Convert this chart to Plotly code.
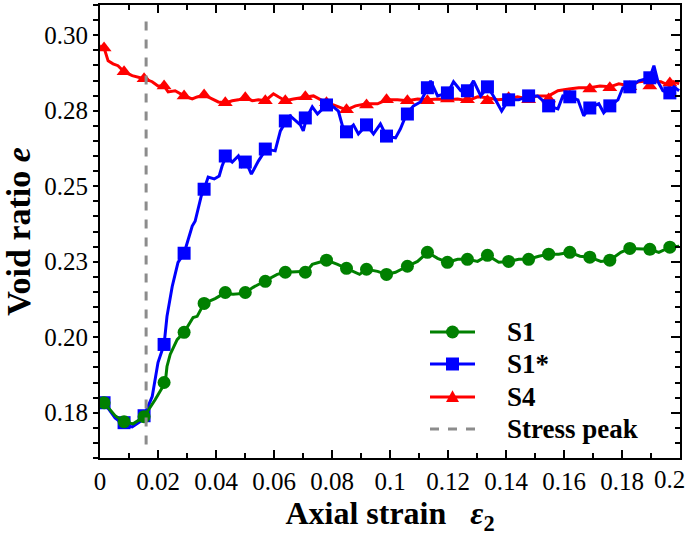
import plotly.graph_objects as go

# ---------------- data ----------------
marker_x = [0.0014, 0.0083, 0.0152, 0.0221, 0.0290, 0.0359, 0.0432, 0.0501, 0.0570, 0.0639,
            0.0708, 0.0781, 0.0850, 0.0919, 0.0988, 0.1060, 0.1129, 0.1198, 0.1267, 0.1336,
            0.1409, 0.1478, 0.1547, 0.1620, 0.1689, 0.1758, 0.1827, 0.1896, 0.1965]

s1_marker_y = [0.1783, 0.1720, 0.1737, 0.1850, 0.2016, 0.2112, 0.2148, 0.2148, 0.2185, 0.2215,
               0.2215, 0.2255, 0.2228, 0.2225, 0.2208, 0.2235, 0.2281, 0.2248, 0.2258, 0.2271,
               0.2251, 0.2258, 0.2275, 0.2281, 0.2265, 0.2255, 0.2294, 0.2291, 0.2298]
s1s_marker_y = [0.1783, 0.1717, 0.1740, 0.1976, 0.2278, 0.2490, 0.2600, 0.2580, 0.2623, 0.2716,
                0.2726, 0.2769, 0.2680, 0.2703, 0.2666, 0.2739, 0.2826, 0.2809, 0.2816, 0.2829,
                0.2786, 0.2799, 0.2766, 0.2796, 0.2759, 0.2766, 0.2829, 0.2859, 0.2809]
s4_marker_y = [0.2958, 0.2879, 0.2856, 0.2832, 0.2799, 0.2802, 0.2776, 0.2793, 0.2783, 0.2783,
               0.2796, 0.2776, 0.2753, 0.2769, 0.2786, 0.2783, 0.2783, 0.2789, 0.2786, 0.2783,
               0.2793, 0.2786, 0.2789, 0.2799, 0.2822, 0.2826, 0.2829, 0.2832, 0.2842]

s1_x = [0.0014, 0.0052, 0.0083, 0.0114, 0.0152, 0.0190, 0.0225, 0.0231, 0.0242, 0.0266,
        0.0290, 0.0321, 0.0335, 0.0359, 0.0397, 0.0408, 0.0428, 0.0459, 0.0497, 0.0528,
        0.0570, 0.0611, 0.0642, 0.0684, 0.0712, 0.0732, 0.0760, 0.0781, 0.0819, 0.0850,
        0.0895, 0.0919, 0.0957, 0.0988, 0.1019, 0.1060, 0.1095, 0.1130, 0.1164, 0.1199,
        0.1233, 0.1268, 0.1302, 0.1337, 0.1375, 0.1409, 0.1444, 0.1478, 0.1513, 0.1547,
        0.1582, 0.1620, 0.1655, 0.1689, 0.1727, 0.1758, 0.1796, 0.1827, 0.1865, 0.1896,
        0.1927, 0.1965, 0.1997]
s1_y = [0.1783, 0.1740, 0.1720, 0.1713, 0.1737, 0.1793, 0.1850, 0.1903, 0.1943, 0.1992,
        0.2016, 0.2065, 0.2069, 0.2112, 0.2128, 0.2135, 0.2145, 0.2142, 0.2145, 0.2165,
        0.2188, 0.2208, 0.2215, 0.2218, 0.2218, 0.2241, 0.2248, 0.2255, 0.2241, 0.2228,
        0.2208, 0.2225, 0.2218, 0.2208, 0.2215, 0.2235, 0.2251, 0.2281, 0.2261, 0.2248,
        0.2258, 0.2258, 0.2251, 0.2271, 0.2248, 0.2251, 0.2258, 0.2258, 0.2268, 0.2275,
        0.2275, 0.2281, 0.2268, 0.2265, 0.2251, 0.2255, 0.2281, 0.2294, 0.2291, 0.2291,
        0.2281, 0.2298, 0.2301]

s1s_x = [0.0014, 0.0052, 0.0083, 0.0111, 0.0138, 0.0152, 0.0180, 0.0200, 0.0221, 0.0231,
         0.0249, 0.0269, 0.0290, 0.0318, 0.0328, 0.0349, 0.0359, 0.0373, 0.0394, 0.0411,
         0.0421, 0.0435, 0.0456, 0.0477, 0.0490, 0.0504, 0.0522, 0.0546, 0.0573, 0.0604,
         0.0622, 0.0642, 0.0656, 0.0691, 0.0701, 0.0712, 0.0732, 0.0750, 0.0781, 0.0805,
         0.0822, 0.0836, 0.0850, 0.0874, 0.0891, 0.0919, 0.0943, 0.0967, 0.0988, 0.1019,
         0.1036, 0.1057, 0.1081, 0.1105, 0.1130, 0.1140, 0.1164, 0.1199, 0.1219, 0.1244,
         0.1268, 0.1288, 0.1313, 0.1337, 0.1358, 0.1385, 0.1409, 0.1444, 0.1478, 0.1509,
         0.1547, 0.1579, 0.1596, 0.1617, 0.1648, 0.1668, 0.1686, 0.1720, 0.1737, 0.1758,
         0.1786, 0.1803, 0.1827, 0.1858, 0.1896, 0.1910, 0.1924, 0.1941, 0.1965, 0.1979,
         0.1997]
s1s_y = [0.1783, 0.1733, 0.1710, 0.1703, 0.1720, 0.1740, 0.1803, 0.1916, 0.1976, 0.2069,
         0.2168, 0.2248, 0.2278, 0.2368, 0.2384, 0.2467, 0.2490, 0.2530, 0.2524, 0.2534,
         0.2567, 0.2600, 0.2580, 0.2600, 0.2567, 0.2580, 0.2540, 0.2583, 0.2623, 0.2617,
         0.2683, 0.2716, 0.2733, 0.2703, 0.2683, 0.2726, 0.2763, 0.2739, 0.2769, 0.2763,
         0.2749, 0.2700, 0.2680, 0.2703, 0.2673, 0.2703, 0.2673, 0.2706, 0.2666, 0.2660,
         0.2690, 0.2739, 0.2766, 0.2779, 0.2826, 0.2849, 0.2799, 0.2809, 0.2846, 0.2816,
         0.2816, 0.2849, 0.2799, 0.2829, 0.2796, 0.2749, 0.2786, 0.2786, 0.2799, 0.2799,
         0.2766, 0.2756, 0.2799, 0.2796, 0.2786, 0.2733, 0.2759, 0.2773, 0.2743, 0.2766,
         0.2786, 0.2826, 0.2829, 0.2849, 0.2859, 0.2899, 0.2846, 0.2816, 0.2809, 0.2829,
         0.2816]

s4_x = [0.0000, 0.0014, 0.0028, 0.0045, 0.0062, 0.0083, 0.0111, 0.0131, 0.0152, 0.0180,
        0.0200, 0.0221, 0.0235, 0.0259, 0.0276, 0.0290, 0.0318, 0.0335, 0.0359, 0.0387,
        0.0408, 0.0432, 0.0456, 0.0477, 0.0501, 0.0525, 0.0546, 0.0570, 0.0598, 0.0615,
        0.0639, 0.0667, 0.0708, 0.0736, 0.0781, 0.0805, 0.0850, 0.0881, 0.0919, 0.0957,
        0.0988, 0.1026, 0.1060, 0.1095, 0.1130, 0.1164, 0.1199, 0.1233, 0.1268, 0.1302,
        0.1337, 0.1371, 0.1406, 0.1440, 0.1475, 0.1509, 0.1547, 0.1579, 0.1617, 0.1651,
        0.1689, 0.1724, 0.1758, 0.1789, 0.1827, 0.1858, 0.1896, 0.1934, 0.1965, 0.1979,
        0.1997]
s4_y = [0.2965, 0.2958, 0.2915, 0.2905, 0.2899, 0.2879, 0.2866, 0.2862, 0.2856, 0.2846,
        0.2832, 0.2832, 0.2812, 0.2816, 0.2806, 0.2799, 0.2789, 0.2796, 0.2802, 0.2789,
        0.2779, 0.2776, 0.2783, 0.2786, 0.2793, 0.2783, 0.2786, 0.2783, 0.2806, 0.2796,
        0.2783, 0.2789, 0.2796, 0.2799, 0.2776, 0.2769, 0.2753, 0.2766, 0.2773, 0.2773,
        0.2786, 0.2786, 0.2783, 0.2789, 0.2786, 0.2789, 0.2786, 0.2789, 0.2783, 0.2796,
        0.2793, 0.2786, 0.2789, 0.2796, 0.2789, 0.2799, 0.2799, 0.2816, 0.2822, 0.2826,
        0.2826, 0.2832, 0.2829, 0.2839, 0.2832, 0.2846, 0.2849, 0.2846, 0.2832, 0.2846,
        0.2839]

stress_peak_x = 0.0159
stress_peak_y = [0.1645, 0.3055]

x_tickvals = [0, 0.02, 0.04, 0.06, 0.08, 0.1, 0.12, 0.14, 0.16, 0.18, 0.2]
x_ticktext = ["0", "0.02", "0.04", "0.06", "0.08", "0.1", "0.12", "0.14", "0.16", "0.18", "0.2"]
y_tickvals = [0.175, 0.2, 0.225, 0.25, 0.275, 0.3]
y_ticktext = ["0.18", "0.20", "0.23", "0.25", "0.28", "0.30"]

legend_labels = ["S1", "S1*", "S4", "Stress peak"]

# ---------------- styling ----------------
W, H = 687, 544
ML, MR, MT, MB = 100, 7, 5, 86
PW, PH = W - ML - MR, H - MT - MB

GREEN, BLUE, RED, GREY = "#008000", "#0000ff", "#ff0000", "#8c8c8c"
series = [
    (s1_x, s1_y, s1_marker_y, GREEN, "circle"),
    (s1s_x, s1s_y, s1s_marker_y, BLUE, "square"),
    (s4_x, s4_y, s4_marker_y, RED, "triangle-up"),
]
MS = 13
FONT = "Liberation Serif"
TICK_FS = 25

fig = go.Figure()

for (xs, ys, my, col, sym), name in zip(reversed(series), reversed(legend_labels[:3])):
    fig.add_trace(go.Scatter(x=xs, y=ys, mode="lines", line=dict(color=col, width=3),
                             showlegend=False, hoverinfo="skip", name=name))
    fig.add_trace(go.Scatter(x=marker_x, y=my, mode="markers", name=name,
                             marker=dict(symbol=sym, size=MS, color=col, line=dict(width=0)),
                             showlegend=False))

fig.add_trace(go.Scatter(x=[stress_peak_x, stress_peak_x], y=stress_peak_y, mode="lines",
                         line=dict(color=GREY, width=3, dash="dash"), showlegend=False,
                         name=legend_labels[3]))

fig.add_trace(go.Scatter(x=[None], y=[None], yaxis="y2", showlegend=False))

# ---------------- hand-placed legend (paper coordinates) ----------------
def px_to_paper(px, py):
    return (px - ML) / PW, (H - MB - py) / PH

shapes = []
annotations = []
row_py = [332, 364, 397, 429]
line_x0, line_x1, text_x = 430, 475, 505
styles = [(GREEN, "circle"), (BLUE, "square"), (RED, "triangle"), (GREY, None)]
for lab, py, (col, kind) in zip(legend_labels, row_py, styles):
    x0, yc = px_to_paper(line_x0, py)
    x1, _ = px_to_paper(line_x1, py)
    shapes.append(dict(type="line", xref="paper", yref="paper", x0=x0, x1=x1, y0=yc, y1=yc,
                       line=dict(color=col, width=3, dash="dash" if kind is None else "solid")))
    cx = (x0 + x1) / 2
    hx, hy = (MS / 2) / PW, (MS / 2) / PH
    if kind == "circle":
        shapes.append(dict(type="circle", xref="paper", yref="paper",
                           x0=cx - hx, x1=cx + hx, y0=yc - hy, y1=yc + hy,
                           fillcolor=col, line=dict(width=0)))
    elif kind == "square":
        shapes.append(dict(type="rect", xref="paper", yref="paper",
                           x0=cx - hx, x1=cx + hx, y0=yc - hy, y1=yc + hy,
                           fillcolor=col, line=dict(width=0)))
    elif kind == "triangle":
        path = (f"M {cx - hx},{yc - hy * 0.75} L {cx + hx},{yc - hy * 0.75} "
                f"L {cx},{yc + hy * 1.05} Z")
        shapes.append(dict(type="path", xref="paper", yref="paper", path=path,
                           fillcolor=col, line=dict(width=0)))
    tx, _ = px_to_paper(text_x, py)
    annotations.append(dict(xref="paper", yref="paper", x=tx, y=yc, xanchor="left",
                            yanchor="middle", showarrow=False, text=f"<b>{lab}</b>",
                            font=dict(family=FONT, size=27, color="black")))

# last x tick label sits at the right edge of the page: draw it pulled inside the page
axis_ticktext = x_ticktext[:-1] + [""]
annotations.append(dict(xref="x", yref="paper", x=x_tickvals[-1], y=0, xanchor="right",
                        yanchor="top", xshift=7, yshift=-6, showarrow=False,
                        text=x_ticktext[-1], font=dict(family=FONT, size=TICK_FS, color="black")))

fig.update_layout(
    width=W, height=H,
    margin=dict(l=ML, r=MR, t=MT, b=MB, autoexpand=False),
    paper_bgcolor="white", plot_bgcolor="white",
    font=dict(family=FONT, size=TICK_FS, color="black"),
    showlegend=False,
    shapes=shapes, annotations=annotations,
    xaxis=dict(range=[0, 0.2], tickmode="array", tickvals=x_tickvals, ticktext=axis_ticktext,
               ticks="inside", ticklen=8, tickwidth=1.5, tickcolor="black",
               showline=True, linecolor="black", linewidth=2, mirror="ticks",
               showgrid=False, zeroline=False, automargin=False,
               minor=dict(tickmode="linear", tick0=0, dtick=0.01, ticks="inside", ticklen=5,
                          tickwidth=1.5, tickcolor="black", showgrid=False),
               title=dict(text="<b>Axial strain&nbsp;&nbsp;&nbsp;<i>ε</i><sub>2</sub></b>",
                          font=dict(family=FONT, size=32), standoff=2),
               tickfont=dict(family=FONT, size=TICK_FS)),
    yaxis=dict(range=[0.16, 0.31], tickmode="array", tickvals=y_tickvals, ticktext=y_ticktext,
               ticks="outside", ticklen=5, tickwidth=1.5, tickcolor="black",
               showline=True, linecolor="black", linewidth=2, mirror=True,
               showgrid=False, zeroline=False, automargin=False,
               minor=dict(tickmode="linear", tick0=0.16, dtick=0.005, ticks="outside", ticklen=5,
                          tickwidth=1.5, tickcolor="black", showgrid=False),
               title=dict(text="<b>Void ratio <i>e</i></b>",
                          font=dict(family=FONT, size=34), standoff=6),
               tickfont=dict(family=FONT, size=TICK_FS)),
    yaxis2=dict(range=[0.16, 0.31], overlaying="y", side="right", showticklabels=False,
                tickmode="array", tickvals=y_tickvals, automargin=False,
                ticks="inside", ticklen=9, tickwidth=1.5, tickcolor="black",
                showline=False, showgrid=False, zeroline=False,
                minor=dict(tickmode="linear", tick0=0.16, dtick=0.005, ticks="inside", ticklen=5,
                           tickwidth=1.5, tickcolor="black", showgrid=False)),
)

fig.write_html("out.html")
